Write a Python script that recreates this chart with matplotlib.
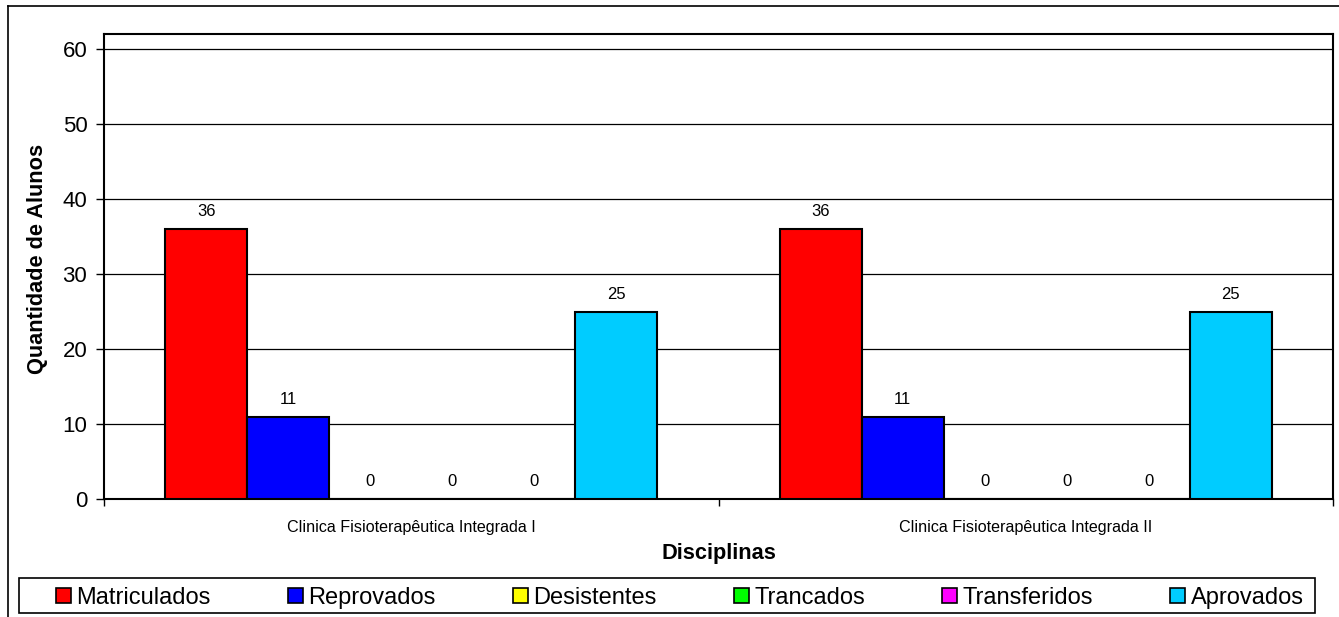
import matplotlib
matplotlib.use("Agg")
import matplotlib.pyplot as plt
import numpy as np
from matplotlib.patches import Rectangle
from matplotlib.lines import Line2D

plt.rcParams['font.family'] = ['Liberation Sans', 'DejaVu Sans']

categories = ["Clinica Fisioterapêutica Integrada I", "Clinica Fisioterapêutica Integrada II"]
series_names = ["Matriculados", "Reprovados", "Desistentes", "Trancados", "Transferidos", "Aprovados"]
matriculados = [36, 36]
reprovados = [11, 11]
desistentes = [0, 0]
trancados = [0, 0]
transferidos = [0, 0]
aprovados = [25, 25]
series_values = [matriculados, reprovados, desistentes, trancados, transferidos, aprovados]
colors = ["#FF0000", "#0000FF", "#FFFF00", "#00FF00", "#FF00FF", "#00CCFF"]
yticks = [0, 10, 20, 30, 40, 50, 60]

W, H = 1339, 617
fig = plt.figure(figsize=(W / 100, H / 100), dpi=100)
fig.patch.set_facecolor("white")

# outer chart frame (left and top visible)
fig.add_artist(Line2D([8 / W, 8 / W], [0, 1 - 6 / H], color="black", lw=1.2, transform=fig.transFigure))
fig.add_artist(Line2D([8 / W, 1], [1 - 6 / H, 1 - 6 / H], color="black", lw=1.2, transform=fig.transFigure))

ax = fig.add_axes([104 / W, 1 - 499 / H, (1333 - 104) / W, (499 - 34) / H])

n = len(series_names)
bw = 0.8 / n
x = np.arange(len(categories))
for i, (name, vals, c) in enumerate(zip(series_names, series_values, colors)):
    pos = x - 0.4 + bw * (i + 0.5)
    ax.bar(pos, vals, width=bw, color=c, edgecolor="black", linewidth=1.5, label=name, zorder=3)
    for p, v in zip(pos, vals):
        ax.annotate(str(v), (p, v), xytext=(0, 12.5), textcoords="offset points",
                    ha="center", va="center", fontsize=12, zorder=4)

ax.set_xlim(-0.5, len(categories) - 0.5)
ax.set_ylim(0, 62)
ax.set_yticks(yticks)
ax.set_yticklabels([str(t) for t in yticks], fontsize=16)
ax.yaxis.grid(True, color="black", lw=0.9, zorder=0)
ax.tick_params(axis="y", length=6, width=1, direction="out", pad=6)

ax.set_xticks(x)
ax.set_xticklabels(categories, fontsize=11.6)
ax.tick_params(axis="x", length=0, pad=15)
ax.set_xticks([-0.5, 0.5, 1.5], minor=True)
ax.tick_params(axis="x", which="minor", length=5, width=1, direction="out")

for s in ax.spines.values():
    s.set_linewidth(1.5)
    s.set_color("black")

fig.text(38 / W, 1 - 259 / H, "Quantidade de Alunos", rotation=90, ha="center", va="center",
         fontsize=15.7, fontweight="bold")
fig.text(719 / W, 1 - 553 / H, "Disciplinas", ha="center", va="center", fontsize=15.7, fontweight="bold")

# legend frame
fig.add_artist(Rectangle((19 / W, 1 - 613 / H), (1315 - 19) / W, 35 / H, transform=fig.transFigure,
                         facecolor="none", edgecolor="black", lw=1.2))
leg = fig.legend(loc="center left", bbox_to_anchor=(56 / W, 1 - 598 / H, (1304 - 56) / W, 0),
                 mode="expand", ncol=6, fontsize=17, frameon=False,
                 borderpad=0, handlelength=0.62, handleheight=0.62,
                 handletextpad=0.25, borderaxespad=0, columnspacing=1.0)
for h in leg.legend_handles:
    h.set_linewidth(1.2)

fig.savefig("out.png", dpi=100, facecolor="white")
